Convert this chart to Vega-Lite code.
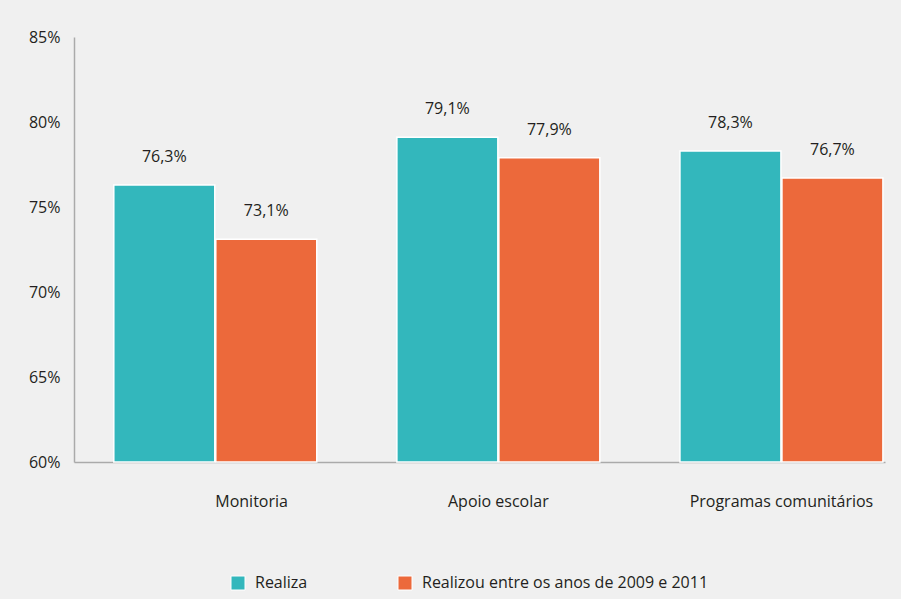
{
  "$schema": "https://vega.github.io/schema/vega-lite/v6.json",
  "width": 811,
  "height": 425,
  "autosize": {"type": "none"},
  "padding": {"left": 74, "top": 37, "right": 16, "bottom": 137},
  "background": "#f0f0f0",
  "config": {
    "view": {"stroke": null},
    "font": "Open Sans",
    "locale": {"number": {"decimal": ",", "thousands": ".", "grouping": [3], "currency": ["R$", ""]}}
  },
  "data": {
    "values": [
      {"grupo": "Monitoria", "serie": "Realiza", "valor": 0.763},
      {"grupo": "Monitoria", "serie": "Realizou entre os anos de 2009 e 2011", "valor": 0.731},
      {"grupo": "Apoio escolar", "serie": "Realiza", "valor": 0.791},
      {"grupo": "Apoio escolar", "serie": "Realizou entre os anos de 2009 e 2011", "valor": 0.779},
      {"grupo": "Programas comunitários", "serie": "Realiza", "valor": 0.783},
      {"grupo": "Programas comunitários", "serie": "Realizou entre os anos de 2009 e 2011", "valor": 0.767}
    ]
  },
  "encoding": {
    "x": {
      "field": "grupo", "type": "nominal", "sort": null,
      "scale": {"paddingInner": 0.283, "paddingOuter": 0.074, "align": 0.95},
      "axis": {"title": null, "labelAngle": 0, "ticks": false, "domainColor": "#aaaaaa", "domainWidth": 1.5,
               "labelFontSize": 16, "labelColor": "#231f20", "labelPadding": 31, "labelLimit": 0,
               "labelAlign": {"condition": {"test": "datum.value === 'Monitoria'", "value": "left"}, "value": "center"}}
    },
    "xOffset": {"field": "serie", "type": "nominal", "scale": {"paddingInner": 0.01}},
    "y": {
      "field": "valor", "type": "quantitative",
      "scale": {"domain": [0.6, 0.85], "clamp": true},
      "axis": {"title": null, "values": [0.6, 0.65, 0.7, 0.75, 0.8, 0.85], "format": ".0%", "grid": false, "ticks": false,
               "domainColor": "#aaaaaa", "domainWidth": 1.5, "labelFontSize": 16, "labelColor": "#231f20", "labelPadding": 14}
    }
  },
  "layer": [
    {
      "mark": {"type": "bar", "stroke": "white", "strokeWidth": 1.5},
      "encoding": {
        "color": {
          "field": "serie", "type": "nominal",
          "scale": {"range": ["#33b7bc", "#ec693b"]},
          "legend": {"title": null, "orient": "none", "direction": "horizontal", "legendX": 156, "legendY": 538,
                     "symbolType": "square", "symbolSize": 196, "symbolStrokeColor": "white", "symbolStrokeWidth": 1,
                     "labelFontSize": 16, "labelColor": "#231f20", "columnPadding": 88, "labelOffset": 9, "labelLimit": 0}
        }
      }
    },
    {
      "mark": {"type": "text", "dy": -28, "fontSize": 16, "color": "#231f20", "baseline": "middle"},
      "encoding": {
        "text": {"field": "valor", "type": "quantitative", "format": ".1%"}
      }
    }
  ]
}
